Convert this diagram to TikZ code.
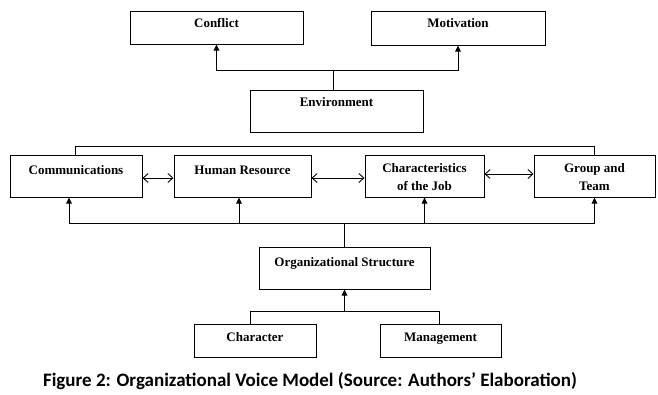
\documentclass[tikz,border=0pt]{standalone}
\usepackage{fontspec}
\setmainfont{Liberation Serif}
\newfontfamily\capfont{Carlito}
\usetikzlibrary{arrows.meta}

\tikzset{
    box/.style 2 args={draw, line width=1pt, inner sep=0pt,
        minimum width=#1pt, minimum height=#2pt},
    txt/.style={anchor=north, inner sep=0pt, align=center,
        font=\fontsize{13}{18}\selectfont\bfseries},
    up/.style={line width=1pt, -{Triangle[length=6pt,width=5.5pt]}},
    both/.style={line width=0.9pt,
        {Straight Barb[length=5pt,width=9pt]}-{Straight Barb[length=5pt,width=9pt]}},
}

\begin{document}
\begin{tikzpicture}[x=1pt, y=-1pt]
    \useasboundingbox (0,0) rectangle (658,394);
    % Cajas superiores
    \node[box={173}{33}, label={[txt, yshift=-8pt]north:Conflict}] (conflict) at (216.5,27.5) {};
    \node[box={174}{34}, label={[txt, yshift=-8pt]north:Motivation}] (motivation) at (458,28) {};
    \node[box={173}{42}, label={[txt, yshift=-8pt]north:Environment}] (env) at (336.5,111) {};
    % Fila central
    \node[box={132}{42}, label={[txt, yshift=-11pt]north:Communications}] (comm) at (76,176) {};
    \node[box={137}{42}, label={[txt, yshift=-11pt]north:Human Resource}] (hr) at (242.5,176) {};
    \node[box={119}{42}, label={[txt, yshift=-9pt]north:Characteristics\\of the Job}] (char) at (424.5,176) {};
    \node[box={121}{42}, label={[txt, yshift=-9pt]north:Group and\\Team}] (group) at (594.5,176) {};
    % Estructura y base
    \node[box={171}{42}, label={[txt, yshift=-11pt]north:Organizational Structure}] (org) at (344.5,268) {};
    \node[box={122}{33}, label={[txt, yshift=-9pt]north:Character}] (character) at (255,340.5) {};
    \node[box={121}{33}, label={[txt, yshift=-9pt]north:Management}] (mgmt) at (440.5,340.5) {};
    % Pie de figura
    \node[inner sep=0pt, font=\capfont\fontsize{19}{21}\selectfont\bfseries] (caption) at (310,381)
        {Figure 2: Organizational Voice Model (Source: Authors’ Elaboration)};

    % Environment -> Conflict, Motivation
    \coordinate (tjoin) at (333,70);
    \draw[line width=1pt] (env.north -| tjoin) -- (tjoin);
    \draw[up] (tjoin) -| (conflict.south);
    \draw[up] (tjoin) -| (motivation.south);
    % Linea superior de la fila central
    \draw[line width=1pt] ([xshift=-1pt]comm.north) -- ++(0,-8) -| (group.north);
    % Flechas dobles
    \draw[both] ([yshift=-2pt]comm.east) -- ([yshift=-2pt]hr.west);
    \draw[both] ([yshift=-2pt]hr.east) -- ([yshift=-2pt]char.west);
    \draw[both] ([yshift=2pt]char.east) -- ([yshift=2pt]group.west);
    % Organizational Structure -> fila central
    \coordinate (mjoin) at (344.5,223);
    \draw[line width=1pt] (org.north) -- (mjoin);
    \foreach \n/\dx in {comm/-7, hr/-3.5, char/0, group/0}
        \draw[up] (mjoin) -| ([xshift=\dx pt]\n.south);
    % Character, Management -> Organizational Structure
    \coordinate (bjoin) at (344.5,312);
    \draw[line width=1pt] ([xshift=-5pt]character.north) -- ++(0,-12) -| ([xshift=-1.5pt]mgmt.north);
    \draw[up] (bjoin) -- (org);
\end{tikzpicture}
\end{document}
